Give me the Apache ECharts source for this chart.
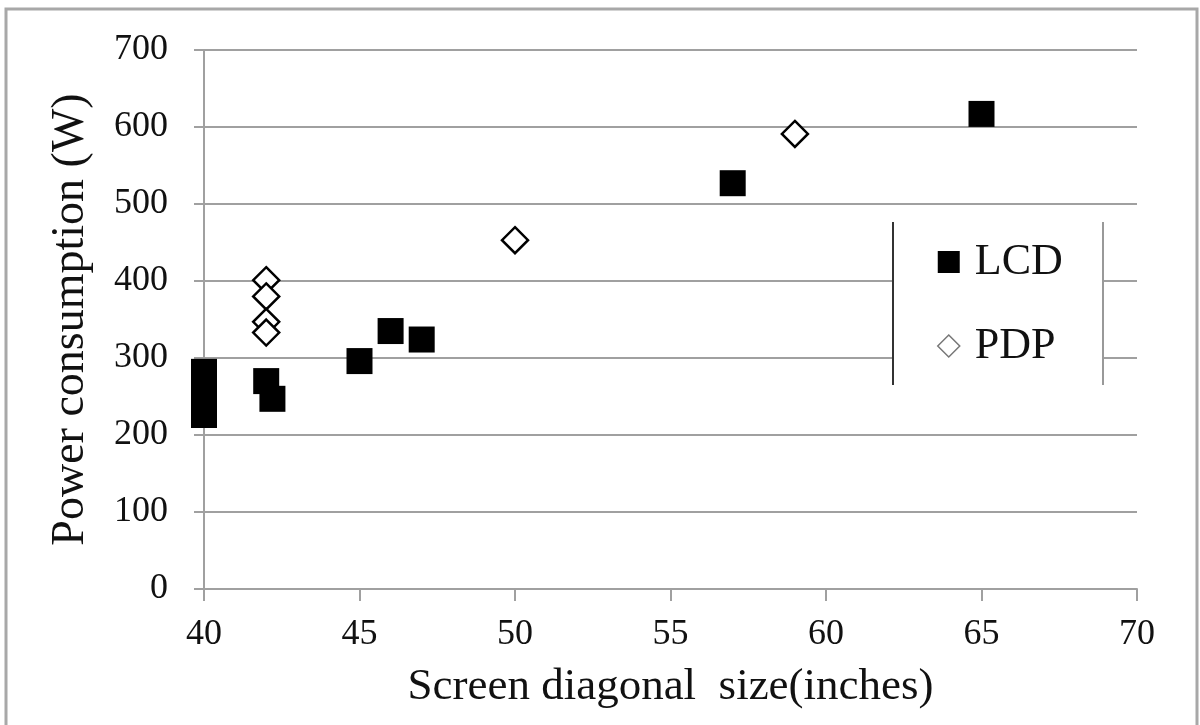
<!DOCTYPE html>
<html>
<head>
<meta charset="utf-8">
<script src="https://cdn.jsdelivr.net/npm/echarts@6/dist/echarts.min.js"></script>
<style>
  html, body { margin: 0; padding: 0; background: #fff; }
  #chart { width: 1200px; height: 725px; }
</style>
</head>
<body>
<div id="chart"></div>
<script>
// ---- data ----
const seriesNames = ['LCD', 'PDP'];
const lcdSize  = [40, 40, 40, 40, 40, 42, 42.2, 45, 46, 47, 57, 65];
const lcdPower = [226, 240, 255, 268, 282, 270, 247, 296, 335, 324, 527, 617];
const pdpSize  = [42, 42, 42, 42, 50, 59];
const pdpPower = [401, 380, 347, 333, 453, 591];
const xTitle = 'Screen diagonal  size(inches)';
const yTitle = 'Power consumption (W)';

const FONT = '"Liberation Serif", "DejaVu Serif", serif';
const chart = echarts.init(document.getElementById('chart'), null, { renderer: 'canvas' });

const pair = (xs, ys) => xs.map((x, i) => [x, ys[i]]);

chart.setOption({
  backgroundColor: '#fff',
  animation: false,
  grid: { left: 204, right: 63, top: 50, bottom: 136, containLabel: false },
  xAxis: {
    type: 'value', min: 40, max: 70, interval: 5,
    name: xTitle, nameLocation: 'middle', nameGap: 76,
    nameTextStyle: { fontFamily: FONT, fontSize: 45, color: '#111' },
    axisLine: { show: true, lineStyle: { color: '#a0a0a0', width: 2 } },
    axisTick: { show: true, length: 12, lineStyle: { color: '#a0a0a0', width: 2 } },
    axisLabel: { fontFamily: FONT, fontSize: 36, color: '#111', margin: 28 },
    splitLine: { show: false }
  },
  yAxis: {
    type: 'value', min: 0, max: 700, interval: 100,
    name: yTitle, nameLocation: 'middle', nameGap: 110,
    nameTextStyle: { fontFamily: FONT, fontSize: 46, color: '#111' },
    axisLine: { show: true, lineStyle: { color: '#a0a0a0', width: 2 } },
    axisTick: { show: true, length: 10, lineStyle: { color: '#a0a0a0', width: 2 } },
    axisLabel: { fontFamily: FONT, fontSize: 36, color: '#111', margin: 36 },
    splitLine: { show: true, lineStyle: { color: '#a0a0a0', width: 2 } }
  },
  legend: {
    orient: 'vertical', left: 893, top: 222,
    padding: [18, 41, 17, 44],
    backgroundColor: '#fff',
    itemWidth: 22, itemHeight: 22, itemGap: 40,
    textStyle: { fontFamily: FONT, fontSize: 44, color: '#111', padding: [0, 0, 0, 10] },
    data: [
      { name: seriesNames[0], icon: 'rect', itemStyle: { color: '#000', opacity: 1 } },
      { name: seriesNames[1], icon: 'diamond', itemStyle: { color: '#fff', borderColor: '#777', borderWidth: 1.5, opacity: 1 } }
    ]
  },
  graphic: [
    { type: 'rect', z: 100, silent: true,
      shape: { x: 6, y: 9, width: 1191, height: 740 },
      style: { fill: null, stroke: '#a8a8a8', lineWidth: 3 } },
    { type: 'line', z: 100, silent: true,
      shape: { x1: 893, y1: 222, x2: 893, y2: 385 },
      style: { stroke: '#333', lineWidth: 2 } },
    { type: 'line', z: 100, silent: true,
      shape: { x1: 1103, y1: 222, x2: 1103, y2: 385 },
      style: { stroke: '#999', lineWidth: 2 } }
  ],
  series: [
    {
      name: seriesNames[0], type: 'scatter', symbol: 'rect', symbolSize: 26,
      itemStyle: { color: '#000', opacity: 1 },
      data: pair(lcdSize, lcdPower)
    },
    {
      name: seriesNames[1], type: 'scatter', symbol: 'diamond', symbolSize: 26,
      itemStyle: { color: '#fff', borderColor: '#000', borderWidth: 2.5, opacity: 1 },
      data: pair(pdpSize, pdpPower)
    }
  ]
});
</script>
</body>
</html>
